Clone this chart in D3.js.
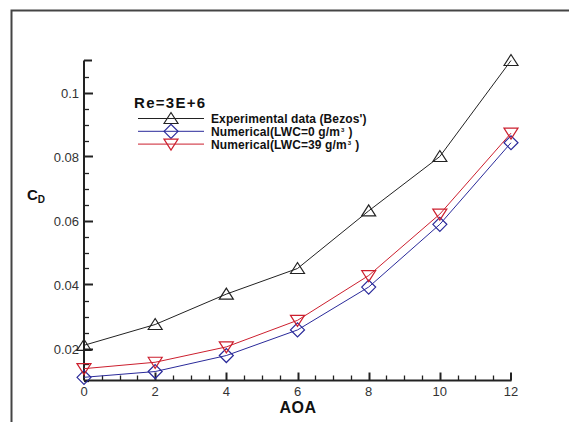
<!DOCTYPE html>
<html><head><meta charset="utf-8">
<script src="https://cdn.jsdelivr.net/npm/d3@7"></script>
<style>body{margin:0;background:#fff}svg{display:block}</style>
</head><body>
<script>
const aoa = [0, 2, 4, 6, 8, 10, 12];
const experimental = [0.021, 0.0275, 0.037, 0.045, 0.063, 0.080, 0.110];
const lwc0 = [0.011, 0.0128, 0.0178, 0.0258, 0.0392, 0.0588, 0.0843];
const lwc39 = [0.0137, 0.0157, 0.0205, 0.0288, 0.0428, 0.0620, 0.0873];
const xTicks = [0, 2, 4, 6, 8, 10, 12];
const yTicks = [0.02, 0.04, 0.06, 0.08, 0.1];
const seriesNames = ["Experimental data (Bezos')", "Numerical(LWC=0 g/m", "Numerical(LWC=39 g/m"];

const W = 569, H = 422;
const svg = d3.select("body").append("svg").attr("width", W).attr("height", H);

// frame
svg.append("path").attr("d", `M11.5,${H} L11.5,10.5 L${W},10.5`).attr("fill", "none")
  .attr("stroke", "#444").attr("stroke-width", 2);

const x = d3.scaleLinear().domain([0, 12]).range([84, 511]);
const y = d3.scaleLinear().domain([0.01, 0.11]).range([380.5, 60.5]);

const axisColor = "#222";
svg.append("line").attr("x1", 84).attr("x2", 84).attr("y1", y(0.11)).attr("y2", y(0.01))
  .attr("stroke", axisColor).attr("stroke-width", 2);
svg.append("line").attr("x1", 84).attr("x2", 511.5).attr("y1", y(0.01)).attr("y2", y(0.01))
  .attr("stroke", axisColor).attr("stroke-width", 2);
svg.append("line").attr("x1", 84).attr("x2", 92).attr("y1", y(0.11)).attr("y2", y(0.11))
  .attr("stroke", axisColor).attr("stroke-width", 2);
svg.append("line").attr("x1", x(12)).attr("x2", x(12)).attr("y1", y(0.01)).attr("y2", y(0.01) - 8)
  .attr("stroke", axisColor).attr("stroke-width", 2);

const yMinor = d3.range(0, 21).map(i => 0.01 + i * 0.005).filter(v => v < 0.1099);
yMinor.forEach(v => {
  const major = yTicks.some(t => Math.abs(t - v) < 1e-9);
  svg.append("line").attr("x1", 84).attr("x2", 84 + (major ? 9 : 5))
    .attr("y1", Math.round(y(v)) + 0.5).attr("y2", Math.round(y(v)) + 0.5)
    .attr("stroke", axisColor).attr("stroke-width", major ? 2 : 1.3);
});
const xMinor = d3.range(0, 25).map(i => i * 0.5);
xMinor.forEach(v => {
  const major = xTicks.includes(v);
  if (v === 0 || v === 12) return;
  svg.append("line").attr("x1", Math.round(x(v)) + 0.5).attr("x2", Math.round(x(v)) + 0.5)
    .attr("y1", y(0.01)).attr("y2", y(0.01) - (major ? 8 : 5))
    .attr("stroke", axisColor).attr("stroke-width", major ? 2 : 1.3);
});

const tickFont = "Liberation Sans, Arial, sans-serif";
svg.selectAll(".yl").data(yTicks).enter().append("text")
  .attr("x", 79).attr("y", d => y(d) + 5).attr("text-anchor", "end")
  .attr("font-family", tickFont).attr("font-size", 13).attr("fill", "#333")
  .text(d => d3.format("~g")(d));
svg.selectAll(".xl").data(xTicks).enter().append("text")
  .attr("x", d => x(d)).attr("y", 396).attr("text-anchor", "middle")
  .attr("font-family", tickFont).attr("font-size", 13).attr("fill", "#333")
  .text(d => d);

// axis titles
svg.append("text").attr("x", 298).attr("y", 413).attr("text-anchor", "middle")
  .attr("font-family", tickFont).attr("font-weight", "bold").attr("font-size", 16).attr("fill", "#111")
  .attr("letter-spacing", 0.5).text("AOA");
const cd = svg.append("text").attr("x", 27).attr("y", 200)
  .attr("font-family", tickFont).attr("font-weight", "bold").attr("font-size", 15).attr("fill", "#111");
cd.append("tspan").text("C");
cd.append("tspan").attr("font-size", 10).attr("dy", 3).text("D");

// series
const series = [
  {vals: experimental, color: "#222", sym: "up"},
  {vals: lwc0, color: "#2a2a9a", sym: "diamond"},
  {vals: lwc39, color: "#cc1f2e", sym: "down"}
];
const line = d3.line().x((d, i) => x(aoa[i])).y(d => y(d));
function marker(g, cx, cy, sym, color) {
  let d;
  if (sym === "up") d = `M${cx - 7},${cy + 5} L${cx},${cy - 6} L${cx + 7},${cy + 5} Z`;
  else if (sym === "down") d = `M${cx - 7},${cy - 5} L${cx},${cy + 6} L${cx + 7},${cy - 5} Z`;
  else d = `M${cx - 7},${cy} L${cx},${cy - 7} L${cx + 7},${cy} L${cx},${cy + 7} Z`;
  g.append("path").attr("d", d).attr("fill", "none").attr("stroke", color).attr("stroke-width", 1.2);
}
series.forEach(s => {
  svg.append("path").datum(s.vals).attr("d", line).attr("fill", "none")
    .attr("stroke", s.color).attr("stroke-width", 1);
  const g = svg.append("g");
  s.vals.forEach((v, i) => marker(g, x(aoa[i]), y(v), s.sym, s.color));
});

// legend
svg.append("text").attr("x", 134).attr("y", 108)
  .attr("font-family", tickFont).attr("font-weight", "bold").attr("font-size", 15).attr("fill", "#111")
  .attr("letter-spacing", 1.3).text("Re=3E+6");
series.forEach((s, i) => {
  const ly = 118.5 + i * 12.8;
  svg.append("line").attr("x1", 138).attr("x2", 204).attr("y1", ly).attr("y2", ly)
    .attr("stroke", s.color).attr("stroke-width", 1);
  marker(svg, 171, ly, s.sym, s.color);
  const t = svg.append("text").attr("x", 211).attr("y", ly + 4.5)
    .attr("font-family", tickFont).attr("font-weight", "bold").attr("font-size", 12).attr("fill", "#111")
    .attr("letter-spacing", 0.1);
  t.append("tspan").text(seriesNames[i]);
  if (i > 0) {
    t.append("tspan").attr("font-size", 6).attr("dy", -4).attr("dx", 1).text("3");
    t.append("tspan").attr("dy", 4).attr("dx", 4).text(")");
  }
});
</script>
</body></html>
